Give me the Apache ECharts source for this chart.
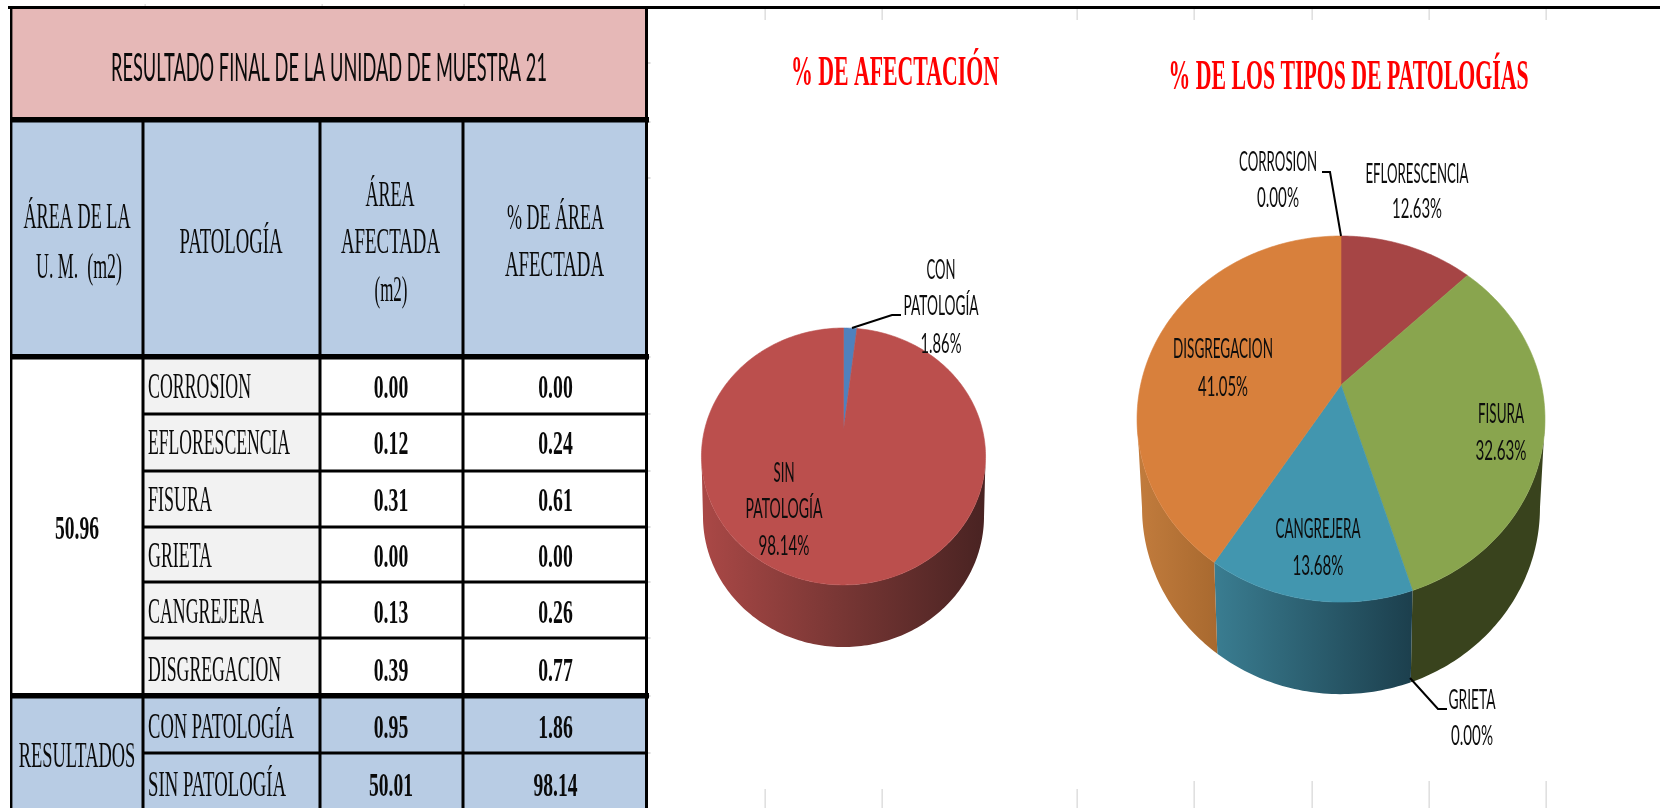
<!DOCTYPE html>
<html><head><meta charset="utf-8">
<script src="https://cdn.jsdelivr.net/npm/echarts@6/dist/echarts.min.js"></script>
<style>html,body{margin:0;padding:0;background:#fff}#c{width:1660px;height:808px}</style>
</head><body><div id="c"></div>
<script>
// ---------- DATA ----------
const tableTitle = 'RESULTADO FINAL DE LA UNIDAD DE MUESTRA 21';
const pathologies = ['CORROSION','EFLORESCENCIA','FISURA','GRIETA','CANGREJERA','DISGREGACION'];
const affectedArea = [0.00,0.12,0.31,0.00,0.13,0.39];
const affectedPct  = [0.00,0.24,0.61,0.00,0.26,0.77];
const unitArea = 50.96;
const resultNames = ['CON PATOLOGÍA','SIN PATOLOGÍA'];
const resultArea = [0.95,50.01];
const resultPct  = [1.86,98.14];
const chartTitle1 = '% DE AFECTACIÓN';
const chartTitle2 = '% DE LOS TIPOS DE PATOLOGÍAS';

// ---------- STYLE / LAYOUT ----------
const SERIF='"Liberation Serif","Times New Roman",serif', SANS='Lato,"Open Sans",sans-serif';
const pieColors1=['#4f81bd','#bb4f4d'];
const sideStops1=[null,[[0,'#aa4846'],[0.5,'#773634'],[1,'#492322']]];
const pieColors2=['#5b7fb5','#a64545','#89a54e','#6f5a92','#4296af','#d8803c'];
const sideStops2=[null,null,[[0,'#39431d'],[1,'#39431d']],null,[[0,'#3a7d91'],[1,'#1c3f4d']],[[0,'#c27c3d'],[1,'#a8692f']]];
const geo1={cx:843.5,cy:430,R:139,S:123,k:0.206,bcy:489.6,bR:137.5,bS:125,sx0:702,sx1:985};
const geo2={cx:1341,cy:385,R:200.4,S:176.7,k:0.186,bcy:473,bR:195.5,bS:180,sx0:1144,sx1:1538};
const labels1=[
  {cx:941,ys:[271,307,345],ws:[29,75,41]},
  {cx:784,ys:[474,510,547],ws:[21,77,51]}];
const labels2=[
  {cx:1278,ys:[163,199],ws:[78,42]},
  {cx:1417,ys:[175,210],ws:[103,50]},
  {cx:1501,ys:[415,452],ws:[46,51]},
  {cx:1472,ys:[701,737],ws:[47,42]},
  {cx:1318,ys:[530,567],ws:[85,51]},
  {cx:1223,ys:[350,388],ws:[100,50]}];
const leaders=[
  [[852,328],[892,315],[901,315]],
  [[1322,172],[1330,172],[1341,236]],
  [[1410,678],[1438,709],[1447,709]]];

// ---------- HELPERS ----------
const mc=document.createElement('canvas').getContext('2d');
function fit(text,font,size,weight,width){mc.font=(weight||'normal')+' '+size+'px '+font;return width/mc.measureText(text).width;}
function txt(text,cx,cy,w,size,font,weight,color,left){
  const s=fit(text,font,size,weight,w);
  return {type:'text',x:cx,y:cy,scaleX:s,z:5,silent:true,
    style:{text:text,fontFamily:font,fontSize:size,fontWeight:weight||'normal',fill:color||'#0a0a0a',
      align:left?'left':'center',verticalAlign:'middle'}};
}
function rect(x,y,w,h,fill,z){return {type:'rect',z:z||1,silent:true,shape:{x:x,y:y,width:w,height:h},style:{fill:fill}};}
function rim(g,deg,bottom){
  const t=deg*Math.PI/180,u=Math.sin(t),v=Math.cos(t),w=1+g.k*v;
  return bottom?[g.cx+g.bR*u/w,g.bcy-g.bS*v/w]:[g.cx+g.R*u/w,g.cy-g.S*v/w];
}
function shares(vals){const t=vals.reduce((a,b)=>a+b,0);let c=0;return vals.map(v=>{const s=c/t*360,e=(c+v)/t*360;c+=v;return [s,e,v/t*100];});}

function topItem(g,colors,layouts,names){
  return function(params,api){
    const i=params.dataIndex;
    const a=api.value(1),b=api.value(2),pct=api.value(3);
    const children=[];
    if(b>a){
      const pts=[[g.cx,g.cy]];
      for(let d=a;d<b;d+=1)pts.push(rim(g,d));
      pts.push(rim(g,b));
      children.push({type:'polygon',shape:{points:pts},style:{fill:colors[i],stroke:colors[i],lineWidth:0.6}});
    }
    const L=layouts[i],lines=names[i].split(' ').concat([pct.toFixed(2)+'%']);
    lines.forEach((t,n)=>{const o=txt(t,L.cx,L.ys[n],L.ws[n],26,SANS,'normal','#0d0d0d');o.z2=10;children.push(o);});
    return {type:'group',children:children};
  };
}
function sideItem(g,stops){
  const edge=Math.acos(-g.k)*180/Math.PI; // rim angle where the perspective ellipse is widest
  return function(params,api){
    const i=params.dataIndex,a=Math.max(api.value(1),edge),b=Math.min(api.value(2),360-edge);
    if(!(b>a)||!stops[i])return {type:'group',children:[]};
    const pts=[];
    for(let d=a;d<b;d+=1)pts.push(rim(g,d));
    pts.push(rim(g,b));
    for(let d=b;d>a;d-=1)pts.push(rim(g,d,true));
    pts.push(rim(g,a,true));
    const xs=pts.map(p=>p[0]);
    const whole=stops[i]===sideStops1[1];
    const x0=whole?g.sx0:Math.min.apply(null,xs),x1=whole?g.sx1:Math.max.apply(null,xs);
    const fill={type:'linear',global:true,x:x0,y:0,x2:x1,y2:0,
      colorStops:stops[i].map(s=>({offset:s[0],color:s[1]}))};
    return {type:'polygon',shape:{points:pts},style:{fill:fill}};
  };
}

// ---------- TABLE ----------
const g=[];
const rowCy=[389,445,502,558,614,672,729,787];
const BODY=35, NUM=34;
g.push(rect(11,9,635,109,'#e6b8b7'));
g.push(rect(11,122,635,233,'#b8cce4'));
g.push(rect(11,359,635,335,'#ffffff'));
g.push(rect(143,359,177,335,'#f2f2f2'));
g.push(rect(11,697,635,111,'#b8cce4'));
// borders
g.push(rect(8,6,1652,3,'#000',3));
g.push(rect(10,6,2.4,802,'#000',3));
[143,320,463].forEach(x=>g.push(rect(x-1.5,120,3,688,'#000',3)));
g.push(rect(645,7,3,801,'#000',3));
g.push(rect(10,117,639,5.5,'#000',3));
g.push(rect(10,354,639,5.5,'#000',3));
g.push(rect(10,693,639,5.5,'#000',3));
[414,471,527,582,638,753].forEach(y=>g.push(rect(143,y-1.5,505,3,'#000',3)));
// faint spreadsheet gridline remnants
const gridTicks=[765,882,1077,1194,1312,1429,1546];
gridTicks.forEach((x,i)=>{
  g.push(rect(x-0.5,9,1.3,11,'#d9d9d9'));
  g.push(rect(x-0.5,i<3?789:781,1.3,i<3?19:27,'#d9d9d9'));
});
[145,322,464].forEach(x=>g.push(rect(x-0.5,4,1.3,2,'#d9d9d9')));
[63,122,178,357,414,471,527,582,638,696,753].forEach(y=>g.push(rect(648,y-1,2.5,2,'#d9d9d9')));
// header text
g.push(txt(tableTitle,329,69,436,38,SANS));
const hdr=[['ÁREA DE LA',77,219,107],['U. M.  (m2)',79,269,86],['PATOLOGÍA',231,244,103],
 ['ÁREA',390,197,49],['AFECTADA',390.5,244,99],['(m2)',391,292,33],['% DE ÁREA',555.5,220,97],['AFECTADA',554.5,267,99]];
hdr.forEach(h=>g.push(txt(h[0],h[1],h[2],h[3],BODY,SERIF)));
// body text
const nameW=[103,142,64,64,116,133];
const numW=v=>v>=10?44:34.5;
pathologies.forEach((n,i)=>{
  g.push(txt(n,148,rowCy[i],nameW[i],BODY,SERIF,'normal','#0a0a0a',true));
  g.push(txt(affectedArea[i].toFixed(2),391,rowCy[i],34.5,NUM,SERIF,'bold'));
  g.push(txt(affectedPct[i].toFixed(2),555.5,rowCy[i],34.5,NUM,SERIF,'bold'));
});
g.push(txt(unitArea.toFixed(2),77,530,44,NUM,SERIF,'bold'));
g.push(txt('RESULTADOS',77,758,116.5,BODY,SERIF));
const resW=[146,138];
resultNames.forEach((n,i)=>{
  g.push(txt(n,148,rowCy[6+i],resW[i],BODY,SERIF,'normal','#0a0a0a',true));
  g.push(txt(resultArea[i].toFixed(2),391,rowCy[6+i],numW(resultArea[i]),NUM,SERIF,'bold'));
  g.push(txt(resultPct[i].toFixed(2),555.5,rowCy[6+i],numW(resultPct[i]),NUM,SERIF,'bold'));
});
// chart titles
g.push(txt(chartTitle1,895,74,208,42,SERIF,'bold','#ff0000'));
g.push(txt(chartTitle2,1348.5,78,360,42,SERIF,'bold','#ff0000'));
// leader lines
leaders.forEach(p=>g.push({type:'polyline',z:6,silent:true,shape:{points:p},style:{stroke:'#000',lineWidth:2,fill:null}}));

// ---------- PIES ----------
const sh1=shares(resultArea), sh2=shares(affectedArea);
const data1=sh1.map((s,i)=>({name:resultNames[i],value:[i,s[0],s[1],resultPct[i]]}));
const data2=sh2.map((s,i)=>({name:pathologies[i],value:[i,s[0],s[1],s[2]]}));
const chart=echarts.init(document.getElementById('c'),null,{renderer:'canvas'});
chart.setOption({
  animation:false,
  backgroundColor:'#ffffff',
  graphic:{elements:g},
  series:[
    {type:'custom',name:'afectacion lateral',coordinateSystem:'none',silent:true,z:2,data:data1,renderItem:sideItem(geo1,sideStops1)},
    {type:'custom',name:'patologias lateral',coordinateSystem:'none',silent:true,z:2,data:data2,renderItem:sideItem(geo2,sideStops2)},
    {type:'custom',name:chartTitle1,coordinateSystem:'none',silent:true,z:3,data:data1,renderItem:topItem(geo1,pieColors1,labels1,resultNames)},
    {type:'custom',name:chartTitle2,coordinateSystem:'none',silent:true,z:3,data:data2,renderItem:topItem(geo2,pieColors2,labels2,pathologies)}
  ]
});
</script></body></html>
